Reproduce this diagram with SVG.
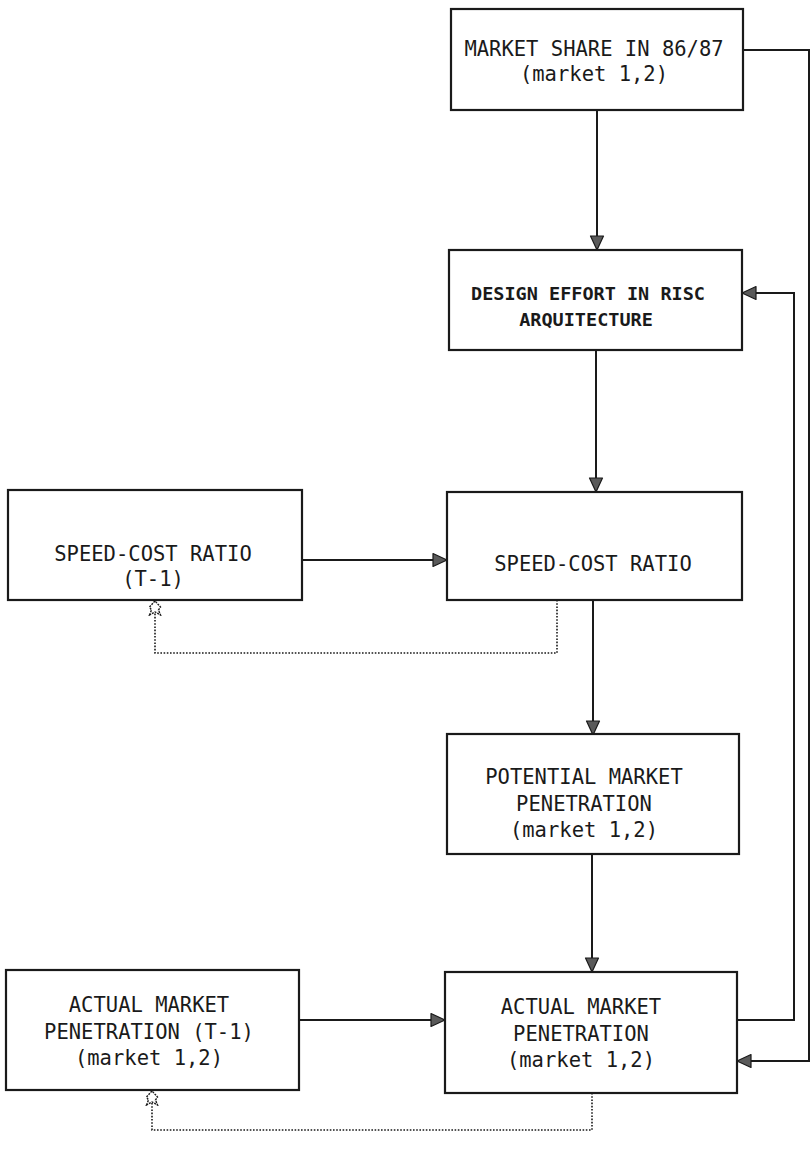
<svg xmlns="http://www.w3.org/2000/svg" width="811" height="1163" viewBox="0 0 811 1163">
<style>
.box{fill:#fff;stroke:#1a1a1a;stroke-width:2.2}
.t{font-family:"DejaVu Sans Mono","Liberation Mono",monospace;font-size:20.5px;fill:#1a1a1a;text-anchor:middle}
.tb{font-family:"DejaVu Sans Mono","Liberation Mono",monospace;font-size:18.5px;font-weight:bold;fill:#1a1a1a;text-anchor:middle}
.ln{fill:none;stroke:#1a1a1a;stroke-width:2}
.dot{fill:none;stroke:#1a1a1a;stroke-width:1.6;stroke-dasharray:1.6 1.6}
</style>
<defs>
<marker id="ah" markerUnits="userSpaceOnUse" markerWidth="18" markerHeight="18" refX="15" refY="8" orient="auto">
<path d="M1,1.5 L15,8 L1,14.5 z" fill="#5a5a5a" stroke="#1a1a1a" stroke-width="1.2" stroke-linejoin="round"/>
</marker>
<marker id="dh" markerUnits="userSpaceOnUse" markerWidth="18" markerHeight="16" refX="15" refY="7" orient="auto">
<path d="M1,1.5 L6,3.5 L9,1.5 L15,7 L9,12.5 L6,10.5 L1,12.5 L4,7 z" fill="#fff" stroke="#1a1a1a" stroke-width="1.4" stroke-dasharray="2 1"/>
</marker>
</defs>
<g id="connectors">
<path class="ln" d="M597,110 L597,250" marker-end="url(#ah)"/>
<path class="ln" d="M596,350 L596,492" marker-end="url(#ah)"/>
<path class="ln" d="M302,560 L447,560" marker-end="url(#ah)"/>
<path class="ln" d="M593,600 L593,735" marker-end="url(#ah)"/>
<path class="ln" d="M592,855 L592,972" marker-end="url(#ah)"/>
<path class="ln" d="M299,1020 L445,1020" marker-end="url(#ah)"/>
<path class="ln" d="M737,1020 L794,1020 L794,293 L742,293" marker-end="url(#ah)"/>
<path class="ln" d="M743,50 L809,50 L809,1061 L737,1061" marker-end="url(#ah)"/>
<path class="dot" d="M557,600 L557,653 L155,653 L155,601" marker-end="url(#dh)"/>
<path class="dot" d="M592,1093 L592,1130 L152,1130 L152,1091" marker-end="url(#dh)"/>
</g>
<g id="market-share">
<rect class="box" x="451" y="9" width="292" height="101"/>
<text class="t" x="594" y="56">MARKET SHARE IN 86/87</text>
<text class="t" x="594" y="81">(market 1,2)</text>
</g>
<g id="design-effort">
<rect class="box" x="449" y="250" width="293" height="100"/>
<text class="tb" x="588" y="300">DESIGN EFFORT IN RISC</text>
<text class="tb" x="586" y="326">ARQUITECTURE</text>
</g>
<g id="speed-cost-t1">
<rect class="box" x="8" y="490" width="294" height="110"/>
<text class="t" x="153" y="561">SPEED-COST RATIO</text>
<text class="t" x="153" y="586">(T-1)</text>
</g>
<g id="speed-cost">
<rect class="box" x="447" y="492" width="295" height="108"/>
<text class="t" x="593" y="571">SPEED-COST RATIO</text>
</g>
<g id="potential">
<rect class="box" x="447" y="734" width="292" height="120"/>
<text class="t" x="584" y="784">POTENTIAL MARKET</text>
<text class="t" x="584" y="811">PENETRATION</text>
<text class="t" x="584" y="837">(market 1,2)</text>
</g>
<g id="actual-t1">
<rect class="box" x="6" y="970" width="293" height="120"/>
<text class="t" x="149" y="1012">ACTUAL MARKET</text>
<text class="t" x="149" y="1039">PENETRATION (T-1)</text>
<text class="t" x="149" y="1065">(market 1,2)</text>
</g>
<g id="actual">
<rect class="box" x="445" y="972" width="292" height="121"/>
<text class="t" x="581" y="1014">ACTUAL MARKET</text>
<text class="t" x="581" y="1041">PENETRATION</text>
<text class="t" x="581" y="1067">(market 1,2)</text>
</g>
</svg>
